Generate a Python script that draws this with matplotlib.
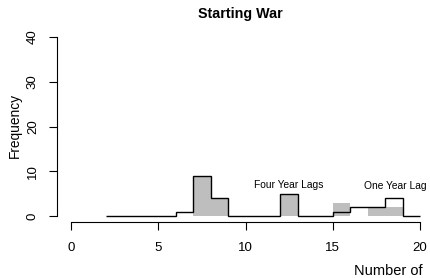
import matplotlib
matplotlib.use("Agg")
import matplotlib.pyplot as plt
import numpy as np

plt.rcParams['font.family'] = ['Liberation Sans', 'DejaVu Sans']

# One-year-lag histogram (step outline)
one_edges = [2, 3, 4, 5, 6, 7, 8, 9, 10, 11, 12, 13, 14, 15, 16, 17, 18, 19, 20]
one_counts = [0, 0, 0, 0, 1, 9, 4, 0, 0, 0, 5, 0, 0, 1, 2, 2, 4, 0]

# Four-year-lag histogram (gray bars)
four_left = [7, 8, 12, 15, 17, 18]
four_counts = [9, 4, 5, 3, 2, 2]

xticks = [0, 5, 10, 15, 20]
yticks = [0, 10, 20, 30, 40]

W, H = 430, 278
fig = plt.figure(figsize=(W / 100, H / 100), dpi=100)

# pixel geometry (R-style detached axes)
px_per_x = (420 - 71) / 20
px_per_y = (216 - 37) / 40
ax_left, ax_right = 57, 430
ax_bottom, ax_top = 222, 30
xlim = ((ax_left - 71) / px_per_x, (ax_right - 71) / px_per_x)
ylim = ((216 - ax_bottom) / px_per_y, (216 - ax_top) / px_per_y)
ax = fig.add_axes([ax_left / W, 1 - ax_bottom / H, (ax_right - ax_left) / W, (ax_bottom - ax_top) / H])
ax.set_xlim(*xlim)
ax.set_ylim(*ylim)

ax.bar(four_left, four_counts, width=1, align='edge', color='#BEBEBE', edgecolor='none', zorder=1)
ax.stairs(one_counts, one_edges, color='black', linewidth=1.0, baseline=None, zorder=2)

ax.text(12.5, 6.9, "Four Year Lags", ha='center', va='center', fontsize=7.4)
ax.text(18.6, 6.8, "One Year Lag", ha='center', va='center', fontsize=7.4)

for s in ['top', 'right']:
    ax.spines[s].set_visible(False)
ax.spines['left'].set_bounds(0, 40)
ax.spines['bottom'].set_bounds(0, 20)
ax.spines['left'].set_linewidth(0.8)
ax.spines['bottom'].set_linewidth(0.8)
ax.set_xticks(xticks)
ax.set_yticks(yticks)
ax.set_xticklabels([str(t) for t in xticks])
ax.set_yticklabels([str(t) for t in yticks], rotation=90, va='center')
ax.tick_params(axis='x', length=6, width=0.8, pad=8.5, labelsize=9.5)
ax.tick_params(axis='y', length=6, width=0.8, pad=7, labelsize=9.5)

fig.text(15 / W, 1 - 125 / H, "Frequency", rotation=90, ha='center', va='center', fontsize=9.9)
fig.text(240.5 / W, 1 - 14 / H, "Starting War", ha='center', va='center', fontsize=10.3, fontweight='bold')
fig.text(354 / W, 1 - 271 / H, "Number of", ha='left', va='center', fontsize=10.5)

fig.savefig("out.png", dpi=100)
